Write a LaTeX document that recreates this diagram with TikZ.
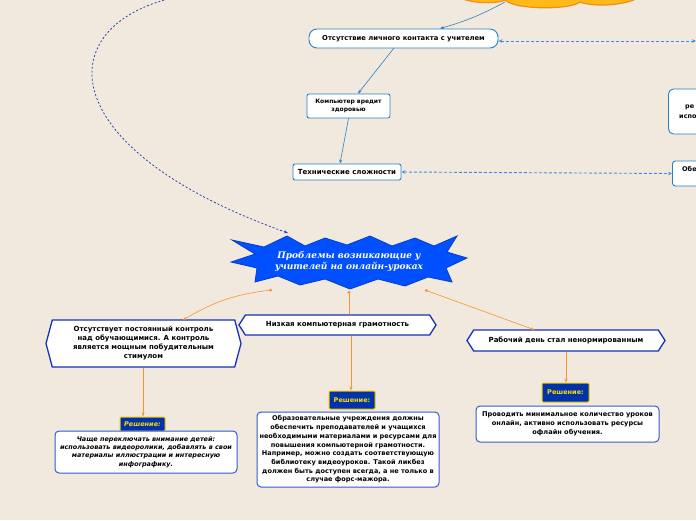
\documentclass[tikz,border=0pt]{standalone}
\usepackage{fontspec}
\setmainfont{DejaVu Sans}
\newfontfamily\starfont{DejaVu Serif}
\usetikzlibrary{shapes.symbols,arrows.meta}
\definecolor{bgc}{RGB}{241,233,221}
\definecolor{linkblue}{RGB}{38,130,200}
\definecolor{dashblue}{RGB}{60,140,230}
\definecolor{curveblue}{RGB}{40,70,180}
\definecolor{starfill}{RGB}{0,80,255}
\definecolor{starline}{RGB}{10,60,200}
\definecolor{hexline}{RGB}{20,50,180}
\definecolor{solline}{RGB}{50,90,210}
\definecolor{labfill}{RGB}{0,50,170}
\definecolor{labline}{RGB}{240,200,0}
\definecolor{labtext}{RGB}{255,220,0}
\definecolor{orangeline}{RGB}{245,150,50}
\definecolor{cloudfill}{RGB}{255,185,25}
\definecolor{cloudline}{RGB}{245,140,20}
\tikzset{
  fs/.style n args={2}{font=\fontsize{#1}{#2}\selectfont\bfseries},
  topicbox/.style={draw=linkblue, fill=white, line width=0.9pt, inner sep=2pt, align=center},
  hexbox/.style={signal, signal to=west and east, draw=hexline, fill=white, line width=1.3pt, align=center, inner sep=1pt},
  solbox/.style={draw=solline, fill=white, rounded corners=4pt, line width=1pt, align=center, inner sep=2pt},
  labbox/.style={draw=labline, fill=labfill, text=labtext, line width=1pt, rounded corners=1pt, inner sep=2pt, font=\fontsize{6.5}{8}\selectfont\bfseries},
  bluelink/.style={draw=linkblue, line width=0.6pt, -{Stealth[length=4pt,width=3pt]}},
  dashlink/.style={draw=dashblue, line width=0.9pt, dashed, dash pattern=on 3pt off 2pt, {Stealth[length=4pt,width=3.5pt,open]}-{Stealth[length=4pt,width=3.5pt,open]}},
  orlink/.style={draw=orangeline, line width=0.6pt, {Circle[length=3pt]}-{Stealth[length=4pt,width=3pt]}},
  orplain/.style={draw=orangeline, line width=0.6pt, -{Stealth[length=4pt,width=3pt]}},
}
\begin{document}
\begin{tikzpicture}[x=1pt,y=-1pt]
\useasboundingbox (0,0) rectangle (696,520);
\clip (0,0) rectangle (696,520);
\fill[bgc] (0,0) rectangle (696,520);
% cloud
\filldraw[fill=cloudfill, draw=cloudline, line width=1.2pt]
  (448,-12) .. controls (455,4) and (495,5) .. (505,0)
  .. controls (515,10) and (570,10) .. (580,2)
  .. controls (595,8) and (640,6) .. (650,-12) -- (650,-30) -- (448,-30) -- cycle;
\coordinate (cloudpt) at (505,2);
\coordinate (topcurve) at (168,-1);
% top nodes
\node[topicbox, rounded corners=8pt, minimum width=189pt, minimum height=19pt, fs={6.8}{8}] (contact) at (403.5,38.5) {Отсутствие личного контакта с учителем};
\node[topicbox, rounded corners=2pt, minimum width=83pt, minimum height=24pt, fs={6}{8}] (health) at (348.5,106) {Компьютер вредит\\здоровью};
\node[topicbox, rounded corners=2pt, minimum width=108pt, minimum height=16pt, fs={7}{8}] (tech) at (347,172) {Технические сложности};
\node[topicbox, rounded corners=5pt, minimum width=60pt, minimum height=45pt, anchor=west] (rightA) at (668,111.5) {};
\node[fs={6.5}{8}, anchor=west, inner sep=0pt] (rightAt1) at (685,107) {ре};
\node[fs={6.5}{8}, anchor=west, inner sep=0pt] (rightAt2) at (679,117) {испо};
\node[topicbox, rounded corners=3pt, minimum width=60pt, minimum height=25pt, anchor=west] (rightB) at (672,173.5) {};
\node[fs={6.5}{8}, anchor=west, inner sep=0pt] (rightBt) at (682,169) {Обе};
\coordinate (rightedge) at (696,41);
\draw[bluelink] (cloudpt) to[bend left=6] (contact.north -| 440,0);
\draw[bluelink] (394,48) -- (health.north -| 358,0);
\draw[bluelink] (health.south) -- (tech.north -| 340,0);
\draw[dashlink] (contact.east |- 0,41) -- (rightedge);
\draw[dashlink] (tech.east) -- (rightB.west);
% star
\coordinate (starcenter) at (348,262);
\draw[curveblue, line width=0.8pt, dashed, dash pattern=on 2pt off 2pt, -{Stealth[length=4pt,width=3pt,open]}] (topcurve) .. controls (50,30) and (55,150) .. (288,233);
\filldraw[fill=starfill, draw=starline, line width=0.8pt]
 (232,240) -- (264,247) -- (287,236) -- (305,246) -- (325,238) -- (347,245) -- (370,236) -- (392,246) -- (415,238) -- (434,246) -- (457,236) -- (447,252) -- (467,258) -- (446,268) -- (452,282) -- (428,277) -- (405,286) -- (378,279) -- (350,289) -- (325,279) -- (300,285) -- (278,276) -- (255,282) -- (257,268) -- (231,262) -- (255,254) -- cycle;
\node[text=white, align=center, font=\fontsize{9}{11}\selectfont\starfont\bfseries\itshape] (star) at (349,261) {Проблемы возникающие у\\учителей на онлайн-уроках};
% main branches
\node[hexbox, signal pointer angle=150, minimum width=195pt, minimum height=47pt, fs={7}{9}] (control) at (143.5,343.5) {Отсутствует постоянный контроль\\над обучающимися. А контроль\\является мощным побудительным\\стимулом};
\node[hexbox, signal pointer angle=115, minimum width=197pt, minimum height=20pt, fs={7}{8}] (literacy) at (337.5,325) {Низкая компьютерная грамотность};
\node[hexbox, signal pointer angle=115, minimum width=198pt, minimum height=21pt, fs={7}{8}] (workday) at (566,340.5) {Рабочий день стал ненормированным};
% solutions
\node[labbox, font=\fontsize{6.5}{8}\selectfont\bfseries\itshape, minimum width=45pt, minimum height=14pt] (lab1) at (142.5,424) {Решение:};
\node[labbox, minimum width=46pt, minimum height=18pt] (lab2) at (352,400) {Решение:};
\node[labbox, minimum width=47pt, minimum height=19pt] (lab3) at (565.5,392.5) {Решение:};
\node[solbox, minimum width=182pt, minimum height=42pt, font=\fontsize{6.45}{8.3}\selectfont\bfseries\itshape] (sol1) at (146,452) {Чаще переключать внимание детей:\\использовать видеоролики, добавлять в свои\\материалы иллюстрации и интересную\\инфографику.};
\node[solbox, minimum width=182pt, minimum height=75pt, fs={6.55}{8.7}] (sol2) at (348,449.5) {Образовательные учреждения должны\\обеспечить преподавателей и учащихся\\необходимыми материалами и ресурсами для\\повышения компьютерной грамотности.\\Например, можно создать соответствующую\\библиотеку видеоуроков. Такой ликбез\\должен быть доступен всегда, а не только в\\случае форс-мажора.};
\node[solbox, minimum width=183pt, minimum height=36pt, fs={6.6}{8.8}] (sol3) at (567.5,424) {Проводить минимальное количество уроков\\онлайн, активно использовать ресурсы\\офлайн обучения.};
% orange links
\draw[orlink] (272,290) to[bend right=12] (183,320);
\draw[orangeline, line width=0.6pt, {Circle[length=3pt]}-] (349,291) -- (literacy.north -| 349,0);
\draw[orplain] (literacy.south -| 351,0) -- (lab2.north -| 351,0);
\draw[orlink] (425,290) -- (535,330);
\draw[orplain] (control.south -| 143,0) -- (lab1.north -| 143,0);
\draw[orplain] (workday.south -| 566,0) -- (lab3.north -| 566,0);
\end{tikzpicture}
\end{document}
